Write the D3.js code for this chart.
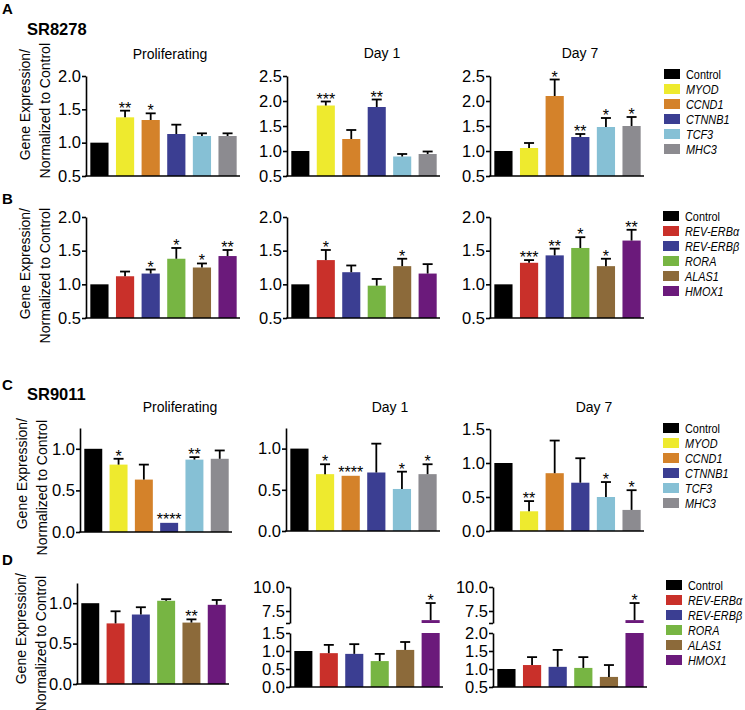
<!DOCTYPE html>
<html><head><meta charset="utf-8">
<script src="https://cdn.jsdelivr.net/npm/d3@7"></script>
<style>
body{margin:0;background:#fff;}
text{font-family:"Liberation Sans",Arial,Helvetica,sans-serif;fill:#000;}
</style></head>
<body><svg id="chart" width="745" height="710"></svg>
<script>
// ---------- data ----------
const genesSR = ["Control","MYOD","CCND1","CTNNB1","TCF3","MHC3"];
const genesClock = ["Control","REV-ERBα","REV-ERBβ","RORA","ALAS1","HMOX1"];
const colorsSR = ["#000000","#eeea2e","#d4822a","#3b3e92","#86c0d5","#8c8b90"];
const colorsClock = ["#000000","#c9302a","#3b3e92","#77b543","#8c6a3a","#6b1a7b"];
const timepoints = ["Proliferating","Day 1","Day 7"];
const compounds = ["SR8278","SR9011"];
const panelLetters = ["A","B","C","D"];
const yLabel = ["Gene Expression/","Normalized to Control"];

// A: SR8278, myogenic genes
const aProlif = [1.00,1.38,1.34,1.13,1.10,1.10];
const aProlifErr = [0,0.10,0.10,0.14,0.04,0.04];
const aProlifSig = ["","**","*","","",""];
const aDay1 = [1.00,1.91,1.24,1.88,0.89,0.94];
const aDay1Err = [0,0.08,0.18,0.15,0.05,0.05];
const aDay1Sig = ["","***","","**","",""];
const aDay7 = [1.00,1.06,2.10,1.28,1.48,1.50];
const aDay7Err = [0,0.10,0.33,0.06,0.18,0.18];
const aDay7Sig = ["","","*","**","*","*"];

// B: SR8278, clock/heme genes
const bProlif = [1.00,1.12,1.16,1.38,1.25,1.42];
const bProlifErr = [0,0.07,0.06,0.16,0.06,0.09];
const bProlifSig = ["","","*","*","*","**"];
const bDay1 = [1.00,1.36,1.18,0.98,1.27,1.16];
const bDay1Err = [0,0.15,0.10,0.10,0.11,0.14];
const bDay1Sig = ["","*","","","*",""];
const bDay7 = [1.00,1.32,1.43,1.54,1.27,1.65];
const bDay7Err = [0,0.04,0.10,0.16,0.11,0.16];
const bDay7Sig = ["","***","**","*","*","**"];

// C: SR9011, myogenic genes
const cProlif = [1.00,0.81,0.63,0.11,0.87,0.88];
const cProlifErr = [0,0.07,0.18,0.01,0.03,0.10];
const cProlifSig = ["","*","","****","**",""];
const cDay1 = [1.00,0.69,0.67,0.71,0.51,0.69];
const cDay1Err = [0,0.12,0.01,0.35,0.21,0.12];
const cDay1Sig = ["","*","****","","*","*"];
const cDay7 = [1.00,0.29,0.85,0.71,0.50,0.31];
const cDay7Err = [0,0.15,0.48,0.36,0.22,0.29];
const cDay7Sig = ["","**","","","*","*"];

// D: SR9011, clock/heme genes
const dProlif = [1.00,0.75,0.86,1.03,0.76,0.98];
const dProlifErr = [0,0.15,0.09,0.02,0.04,0.06];
const dProlifSig = ["","","","","**",""];
const dDay1 = [1.00,0.94,0.92,0.72,1.03,6.55];
const dDay1Err = [0,0.23,0.27,0.20,0.22,1.78];
const dDay1Sig = ["","","","","","*"];
const dDay7 = [1.00,1.11,1.06,1.03,0.78,6.55];
const dDay7Err = [0,0.22,0.47,0.30,0.33,1.78];
const dDay7Sig = ["","","","","","*"];

// tick values
const ticks05to20 = [0.5,1.0,1.5,2.0];
const ticks05to25 = [0.5,1.0,1.5,2.0,2.5];
const ticks0to10 = [0,0.5,1.0];
const ticks0to15 = [0,0.5,1.0,1.5];
const ticksUpper = [6.25,7.5,10.0];

// ---------- drawing ----------
const svg = d3.select("#chart");
const fmt = d3.format(".1f");
const AX = 1.6;

function drawPanel(p){
  const g = svg.append("g");
  const x = d3.scaleBand().domain(p.cats).range([p.x0 + 1, p.x1]).paddingInner(0.29).paddingOuter(0.13);
  const segs = p.segs.map(s => Object.assign({}, s, {y: d3.scaleLinear().domain(s.domain).range(s.range)}));
  // bars
  p.values.forEach((v, i) => {
    segs.forEach((s, k) => {
      const lo = s.domain[0], hi = s.domain[1];
      if (k > 0 && v <= lo) return;
      const top = Math.min(v, hi);
      g.append("rect")
        .attr("x", x(p.cats[i])).attr("width", x.bandwidth())
        .attr("y", s.y(top)).attr("height", s.y(lo) - s.y(top))
        .attr("fill", p.colors[i]);
    });
  });
  // error bars + significance
  p.values.forEach((v, i) => {
    const e = p.errors[i];
    const s = segs.find(s => v >= s.domain[0] && v <= s.domain[1]) || segs[segs.length - 1];
    const cx = x(p.cats[i]) + x.bandwidth() / 2;
    const yv = s.y(v), ye = s.y(v + e);
    if (e > 0.015) {
      g.append("line").attr("x1", cx).attr("x2", cx).attr("y1", yv).attr("y2", ye)
        .attr("stroke", "#000").attr("stroke-width", 1.8);
      g.append("line").attr("x1", cx - 5).attr("x2", cx + 5).attr("y1", ye).attr("y2", ye)
        .attr("stroke", "#000").attr("stroke-width", 1.8);
    }
    if (p.sig[i]) {
      g.append("text").attr("x", cx).attr("y", ye + 3)
        .attr("text-anchor", "middle").style("font-size", "16px").text(p.sig[i]);
    }
  });
  // y axis segments
  segs.forEach(s => {
    const ax = g.append("g").attr("transform", `translate(${p.x0},0)`)
      .call(d3.axisLeft(s.y).tickValues(s.ticks).tickSize(4).tickSizeOuter(0).tickPadding(1)
        .tickFormat(d => (s.hideFirst && d === s.domain[0]) ? "" : fmt(d)));
    ax.select(".domain").attr("stroke-width", AX);
    ax.selectAll(".tick line").attr("stroke-width", AX);
    ax.selectAll(".tick text").style("font-size", "16.5px").style("font-family", '"Liberation Sans",Arial,sans-serif');
  });
  // x axis
  const yb = segs[0].range[0];
  g.append("line").attr("x1", p.x0 - 0.8).attr("x2", p.x1).attr("y1", yb).attr("y2", yb)
    .attr("stroke", "#000").attr("stroke-width", AX);
  if (p.title) {
    g.append("text").attr("x", p.tx).attr("y", p.ty).attr("text-anchor", "middle")
      .style("font-size", "14px").text(p.title);
  }
}

function legend(x, y, cats, colors){
  const g = svg.append("g").attr("transform", `translate(${x},${y})`);
  cats.forEach((c, i) => {
    g.append("rect").attr("x", 0).attr("y", i * 15 - 5).attr("width", 16).attr("height", 10).attr("fill", colors[i]);
    g.append("text").attr("transform", `translate(22,${i * 15 + 4.5}) scale(0.87,1)`)
      .style("font-size", "12.5px")
      .style("font-style", i === 0 ? "normal" : "italic").text(c);
  });
}

function yLabels(xb, yTop, size){
  [0,1].forEach(k => {
    svg.append("text")
      .attr("transform", `translate(${xb[k]},${yTop[k]}) rotate(-90)`)
      .attr("text-anchor", "end").style("font-size", size + "px").text(yLabel[k]);
  });
}

// Row A
const rowA = [176, 76];
drawPanel({cats: genesSR, colors: colorsSR, values: aProlif, errors: aProlifErr, sig: aProlifSig,
  x0: 86, x1: 240, segs: [{domain: [0.5, 2.0], range: rowA, ticks: ticks05to20}], title: timepoints[0], tx: 170, ty: 59});
drawPanel({cats: genesSR, colors: colorsSR, values: aDay1, errors: aDay1Err, sig: aDay1Sig,
  x0: 287, x1: 440, segs: [{domain: [0.5, 2.5], range: rowA, ticks: ticks05to25}], title: timepoints[1], tx: 382, ty: 58});
drawPanel({cats: genesSR, colors: colorsSR, values: aDay7, errors: aDay7Err, sig: aDay7Sig,
  x0: 490, x1: 644, segs: [{domain: [0.5, 2.5], range: rowA, ticks: ticks05to25}], title: timepoints[2], tx: 580, ty: 58});
legend(664, 74, genesSR, colorsSR);

// Row B
const rowB = [318, 217];
drawPanel({cats: genesClock, colors: colorsClock, values: bProlif, errors: bProlifErr, sig: bProlifSig,
  x0: 86, x1: 240, segs: [{domain: [0.5, 2.0], range: rowB, ticks: ticks05to20}]});
drawPanel({cats: genesClock, colors: colorsClock, values: bDay1, errors: bDay1Err, sig: bDay1Sig,
  x0: 287, x1: 440, segs: [{domain: [0.5, 2.0], range: rowB, ticks: ticks05to20}]});
drawPanel({cats: genesClock, colors: colorsClock, values: bDay7, errors: bDay7Err, sig: bDay7Sig,
  x0: 490, x1: 644, segs: [{domain: [0.5, 2.0], range: rowB, ticks: ticks05to20}]});
legend(663, 216, genesClock, colorsClock);

// Row C
drawPanel({cats: genesSR, colors: colorsSR, values: cProlif, errors: cProlifErr, sig: cProlifSig,
  x0: 80, x1: 232, segs: [{domain: [0, 1.25], range: [532, 428], ticks: ticks0to10}], title: timepoints[0], tx: 180, ty: 412});
drawPanel({cats: genesSR, colors: colorsSR, values: cDay1, errors: cDay1Err, sig: cDay1Sig,
  x0: 286, x1: 440, segs: [{domain: [0, 1.25], range: [531, 428], ticks: ticks0to10}], title: timepoints[1], tx: 390, ty: 412});
drawPanel({cats: genesSR, colors: colorsSR, values: cDay7, errors: cDay7Err, sig: cDay7Sig,
  x0: 490, x1: 644, segs: [{domain: [0, 1.5], range: [531, 429], ticks: ticks0to15}], title: timepoints[2], tx: 594, ty: 412});
legend(663, 428, genesSR, colorsSR);

// Row D
drawPanel({cats: genesClock, colors: colorsClock, values: dProlif, errors: dProlifErr, sig: dProlifSig,
  x0: 77, x1: 229, segs: [{domain: [0, 1.25], range: [684, 583], ticks: ticks0to10}]});
drawPanel({cats: genesClock, colors: colorsClock, values: dDay1, errors: dDay1Err, sig: dDay1Sig,
  x0: 290, x1: 443, segs: [{domain: [0, 1.5], range: [687, 633], ticks: ticks0to15},
                           {domain: [6.25, 10], range: [623, 587], ticks: ticksUpper, hideFirst: true}]});
drawPanel({cats: genesClock, colors: colorsClock, values: dDay7, errors: dDay7Err, sig: dDay7Sig,
  x0: 493, x1: 647, segs: [{domain: [0.5, 2.0], range: [687, 633], ticks: ticks05to20},
                           {domain: [6.25, 10], range: [623, 587], ticks: ticksUpper, hideFirst: true}]});
legend(666, 585, genesClock, colorsClock);

// panel letters and compound names
[[2,14],[2,204],[2,390],[2,565]].forEach((pos, i) => {
  svg.append("text").attr("x", pos[0]).attr("y", pos[1]).style("font-size", "15px").style("font-weight", "bold").text(panelLetters[i]);
});
svg.append("text").attr("x", 27).attr("y", 35).style("font-size", "16.5px").style("font-weight", "bold").text(compounds[0]);
svg.append("text").attr("x", 27).attr("y", 400).style("font-size", "16.5px").style("font-weight", "bold").text(compounds[1]);

// y labels
yLabels([30, 50], [49, 43], 14);
yLabels([30, 50], [208, 208], 14);
yLabels([26.5, 47], [418, 420], 14);
yLabels([25.5, 46], [573, 576], 14);
</script>
</body></html>
